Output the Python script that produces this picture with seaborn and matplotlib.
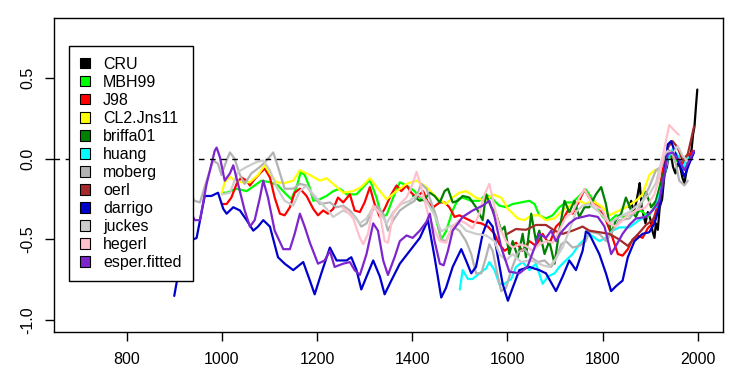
import numpy as np
import pandas as pd
import matplotlib
matplotlib.use("Agg")
import matplotlib.pyplot as plt
from matplotlib.patches import Patch
import seaborn as sns

# series names and colours, in the order they are drawn
names = ['CRU', 'MBH99', 'J98', 'CL2.Jns11', 'briffa01', 'huang',
         'moberg', 'oerl', 'darrigo', 'juckes', 'hegerl', 'esper.fitted']
colors = ['#000000', '#00FF00', '#FF0000', '#FFFF00', '#008000', '#00FFFF',
          '#B3B3B3', '#A52A2A', '#0000CD', '#CCCCCC', '#FFC0CB', '#7D26CD']

xticks = [800, 1000, 1200, 1400, 1600, 1800, 2000]
yticks = [-1.0, -0.5, 0.0, 0.5]
ytick_labels = ['-1.0', '-0.5', '0.0', '0.5']

cru_years = [1856, 1860, 1865, 1870, 1875, 1878, 1882, 1886, 1890, 1895, 1900, 1905, 1909,
             1912, 1916, 1920, 1925, 1930, 1935, 1940, 1944, 1948, 1953, 1958, 1963, 1968,
             1972, 1976, 1980, 1984, 1987, 1990, 1993, 1996, 1999]
cru_vals = [-0.30, -0.26, -0.33, -0.28, -0.20, -0.15, -0.30, -0.35, -0.40, -0.33, -0.37, -0.45, -0.49,
            -0.40, -0.44, -0.30, -0.25, -0.10, -0.05, 0.05, 0.02, -0.05, -0.09, -0.03, -0.05, -0.12,
            -0.15, -0.08, 0.00, 0.02, 0.06, 0.15, 0.20, 0.32, 0.43]

mbh_years = [1000, 1010, 1031, 1052, 1069, 1083, 1101, 1118, 1132, 1146, 1157, 1166, 1174, 1185,
             1192, 1206, 1220, 1234, 1248, 1262, 1283, 1300, 1311, 1325, 1335, 1346, 1360, 1374,
             1388, 1405, 1419, 1433, 1447, 1461, 1471, 1485, 1496, 1506, 1524, 1541, 1555, 1569,
             1583, 1597, 1611, 1629, 1646, 1657, 1667, 1681, 1695, 1709, 1723, 1737, 1751, 1765,
             1772, 1786, 1800, 1814, 1828, 1846, 1863, 1881, 1895, 1909, 1923, 1933, 1944, 1954,
             1965, 1975, 1980]
mbh_vals = [-0.21, -0.21, -0.185, -0.20, -0.165, -0.135, -0.145, -0.165, -0.21, -0.25, -0.175, -0.08,
            -0.10, -0.18, -0.26, -0.25, -0.23, -0.20, -0.185, -0.22, -0.22, -0.165, -0.13, -0.24, -0.35,
            -0.35, -0.24, -0.145, -0.165, -0.20, -0.25, -0.27, -0.34, -0.50, -0.45, -0.32, -0.25, -0.24,
            -0.26, -0.26, -0.22, -0.25, -0.29, -0.30, -0.28, -0.27, -0.26, -0.28, -0.35, -0.37, -0.35,
            -0.30, -0.27, -0.27, -0.23, -0.19, -0.22, -0.28, -0.36, -0.39, -0.35, -0.36, -0.34, -0.32,
            -0.36, -0.30, -0.135, -0.01, 0.02, -0.01, -0.03, -0.01, 0.00]

j98_years = [1000, 1010, 1020, 1031, 1041, 1052, 1059, 1069, 1080, 1090, 1101, 1111, 1122, 1132,
             1143, 1153, 1164, 1178, 1192, 1202, 1213, 1223, 1234, 1244, 1255, 1269, 1279, 1290,
             1300, 1311, 1321, 1332, 1342, 1356, 1367, 1377, 1388, 1398, 1409, 1423, 1433, 1444,
             1458, 1468, 1478, 1489, 1499, 1513, 1527, 1545, 1559, 1573, 1583, 1594, 1604, 1618,
             1632, 1646, 1660, 1674, 1688, 1702, 1716, 1727, 1737, 1751, 1762, 1772, 1779, 1793,
             1807, 1821, 1832, 1842, 1853, 1863, 1874, 1884, 1895, 1905, 1916, 1926, 1937, 1947,
             1958, 1968, 1979, 1989]
j98_vals = [-0.28, -0.28, -0.24, -0.155, -0.115, -0.135, -0.165, -0.125, -0.09, -0.06, -0.115, -0.24,
            -0.34, -0.35, -0.30, -0.21, -0.185, -0.23, -0.31, -0.35, -0.32, -0.34, -0.31, -0.24, -0.27,
            -0.22, -0.32, -0.33, -0.27, -0.175, -0.28, -0.36, -0.31, -0.22, -0.165, -0.20, -0.165, -0.21,
            -0.24, -0.20, -0.27, -0.30, -0.27, -0.27, -0.30, -0.36, -0.35, -0.37, -0.39, -0.40, -0.42,
            -0.465, -0.53, -0.57, -0.55, -0.52, -0.57, -0.51, -0.54, -0.465, -0.53, -0.42, -0.38, -0.32,
            -0.34, -0.26, -0.19, -0.24, -0.26, -0.30, -0.38, -0.49, -0.59, -0.60, -0.56, -0.50, -0.475,
            -0.49, -0.43, -0.40, -0.28, -0.07, 0.05, 0.01, 0.00, -0.03, 0.01, 0.05]

cl2_years = [1000, 1006, 1017, 1027, 1041, 1059, 1076, 1090, 1101, 1115, 1132, 1150, 1164, 1185,
             1206, 1220, 1234, 1255, 1276, 1293, 1311, 1328, 1346, 1367, 1388, 1409, 1430, 1451,
             1471, 1485, 1499, 1513, 1534, 1552, 1569, 1587, 1601, 1622, 1636, 1650, 1667, 1681,
             1699, 1716, 1737, 1751, 1765, 1779, 1800, 1814, 1828, 1849, 1870, 1884, 1898, 1909, 1919]
cl2_vals = [-0.21, -0.145, -0.11, -0.135, -0.145, -0.145, -0.10, -0.04, -0.09, -0.145, -0.15, -0.135,
            -0.07, -0.10, -0.135, -0.12, -0.155, -0.21, -0.20, -0.175, -0.12, -0.185, -0.25, -0.20,
            -0.155, -0.135, -0.175, -0.24, -0.28, -0.24, -0.21, -0.20, -0.24, -0.26, -0.22, -0.24,
            -0.31, -0.37, -0.38, -0.35, -0.35, -0.38, -0.37, -0.32, -0.28, -0.26, -0.28, -0.26, -0.30,
            -0.35, -0.33, -0.30, -0.26, -0.22, -0.10, -0.07, -0.08]

briffa_years = [1402, 1416, 1426, 1437, 1447, 1458, 1468, 1475, 1485, 1496, 1506, 1520, 1534, 1548,
                1555, 1566, 1576, 1587, 1594, 1604, 1611, 1622, 1632, 1639, 1650, 1660, 1667, 1678,
                1688, 1699, 1709, 1720, 1730, 1741, 1751, 1762, 1772, 1786, 1797, 1807, 1818, 1828,
                1839, 1849, 1860, 1870, 1881, 1891, 1902, 1912, 1926, 1937, 1951, 1960]
briffa_vals = [-0.23, -0.26, -0.25, -0.21, -0.23, -0.27, -0.20, -0.185, -0.27, -0.26, -0.23, -0.24,
               -0.30, -0.38, -0.22, -0.30, -0.34, -0.445, -0.42, -0.59, -0.51, -0.61, -0.465, -0.61,
               -0.34, -0.51, -0.445, -0.59, -0.51, -0.65, -0.445, -0.26, -0.33, -0.26, -0.36, -0.30,
               -0.30, -0.22, -0.175, -0.28, -0.465, -0.38, -0.34, -0.24, -0.32, -0.36, -0.28, -0.205,
               -0.30, -0.26, -0.115, 0.01, 0.04, 0.01]

huang_years = [1500, 1506, 1517, 1527, 1541, 1555, 1562, 1573, 1583, 1594, 1608, 1618, 1632, 1646,
               1660, 1674, 1685, 1699, 1709, 1723, 1737, 1751, 1765, 1772, 1793, 1807, 1821, 1835,
               1856, 1877, 1898, 1912, 1926, 1937, 1947, 1958, 1968, 1975, 1980]
huang_vals = [-0.81, -0.69, -0.745, -0.745, -0.71, -0.68, -0.64, -0.69, -0.775, -0.775, -0.745, -0.67,
              -0.64, -0.69, -0.65, -0.775, -0.73, -0.71, -0.67, -0.63, -0.59, -0.53, -0.49, -0.465,
              -0.51, -0.49, -0.445, -0.425, -0.425, -0.38, -0.34, -0.30, -0.155, 0.00, 0.06, 0.02,
              -0.07, -0.01, 0.01]

moberg_years = [901, 919, 933, 943, 954, 968, 982, 992, 999, 1010, 1017, 1027, 1038, 1048, 1062,
                1080, 1094, 1108, 1118, 1132, 1150, 1164, 1178, 1192, 1206, 1227, 1241, 1255, 1269,
                1283, 1293, 1304, 1314, 1325, 1339, 1349, 1360, 1374, 1388, 1405, 1419, 1430, 1440,
                1451, 1461, 1471, 1485, 1499, 1513, 1524, 1534, 1545, 1555, 1562, 1569, 1580, 1587,
                1597, 1608, 1622, 1636, 1650, 1664, 1678, 1692, 1702, 1713, 1723, 1737, 1751, 1765,
                1772, 1793, 1807, 1821, 1835, 1856, 1877, 1898, 1912, 1923, 1933, 1944, 1954, 1961,
                1972, 1979]
moberg_vals = [-0.42, -0.34, -0.22, -0.26, -0.27, -0.135, -0.01, -0.03, -0.10, -0.01, 0.04, 0.00,
               -0.10, -0.155, -0.09, -0.05, -0.01, 0.04, -0.05, -0.185, -0.185, -0.155, -0.165, -0.23,
               -0.28, -0.27, -0.30, -0.29, -0.32, -0.37, -0.42, -0.40, -0.33, -0.29, -0.34, -0.445,
               -0.38, -0.32, -0.29, -0.26, -0.155, -0.185, -0.27, -0.36, -0.50, -0.51, -0.42, -0.445,
               -0.51, -0.59, -0.71, -0.71, -0.61, -0.53, -0.57, -0.73, -0.82, -0.80, -0.69, -0.58,
               -0.56, -0.61, -0.64, -0.63, -0.67, -0.62, -0.53, -0.51, -0.55, -0.54, -0.51, -0.45,
               -0.465, -0.51, -0.445, -0.38, -0.37, -0.30, -0.175, -0.07, -0.05, 0.03, 0.05, -0.03,
               -0.135, -0.165, -0.135]

oerl_years = [1600, 1618, 1639, 1660, 1681, 1699, 1716, 1737, 1758, 1772, 1793, 1814, 1835, 1853,
              1867, 1881, 1891, 1905, 1919, 1930, 1937, 1947, 1958, 1968, 1979, 1986, 1992]
oerl_vals = [-0.465, -0.435, -0.44, -0.41, -0.41, -0.445, -0.465, -0.445, -0.42, -0.445, -0.455,
             -0.465, -0.50, -0.54, -0.49, -0.445, -0.41, -0.38, -0.30, -0.09, 0.07, 0.11, 0.07,
             -0.01, 0.03, 0.12, 0.20]

darrigo_years = [900, 915, 929, 940, 947, 964, 978, 992, 1003, 1010, 1024, 1038, 1052, 1066, 1076,
                 1087, 1101, 1118, 1132, 1150, 1171, 1185, 1195, 1209, 1227, 1241, 1262, 1272, 1283,
                 1293, 1304, 1318, 1332, 1342, 1356, 1374, 1395, 1416, 1433, 1447, 1461, 1471, 1485,
                 1503, 1513, 1524, 1534, 1548, 1559, 1569, 1580, 1590, 1601, 1611, 1625, 1646, 1667,
                 1681, 1702, 1716, 1730, 1744, 1758, 1765, 1772, 1793, 1807, 1818, 1828, 1842, 1853,
                 1867, 1884, 1898, 1909, 1919, 1930, 1937, 1944, 1951, 1961, 1972, 1982, 1992]
darrigo_vals = [-0.85, -0.60, -0.475, -0.50, -0.49, -0.23, -0.23, -0.21, -0.31, -0.34, -0.30, -0.32,
                -0.38, -0.445, -0.42, -0.38, -0.42, -0.61, -0.65, -0.69, -0.64, -0.755, -0.84, -0.71,
                -0.55, -0.63, -0.63, -0.61, -0.69, -0.81, -0.73, -0.63, -0.73, -0.84, -0.755, -0.65,
                -0.57, -0.49, -0.38, -0.61, -0.86, -0.80, -0.67, -0.56, -0.63, -0.71, -0.67, -0.465,
                -0.38, -0.42, -0.61, -0.775, -0.88, -0.80, -0.69, -0.67, -0.69, -0.71, -0.82, -0.73,
                -0.63, -0.69, -0.57, -0.45, -0.465, -0.59, -0.71, -0.82, -0.79, -0.755, -0.61, -0.51,
                -0.465, -0.455, -0.40, -0.30, -0.09, 0.09, 0.11, 0.05, -0.03, -0.11, -0.03, 0.04]

juckes_years = [1000, 1017, 1034, 1052, 1073, 1087, 1101, 1115, 1132, 1150, 1164, 1178, 1192, 1220,
                1234, 1255, 1276, 1290, 1304, 1318, 1332, 1346, 1360, 1377, 1395, 1412, 1430, 1447,
                1461, 1478, 1499, 1513, 1534, 1555, 1573, 1583, 1597, 1611, 1629, 1646, 1660, 1674,
                1688, 1699, 1716, 1730, 1744, 1758, 1772, 1793, 1814, 1835, 1856, 1877, 1898, 1912,
                1926, 1937, 1947, 1958, 1968, 1980]
juckes_vals = [-0.22, -0.21, -0.08, -0.05, -0.02, -0.01, -0.07, -0.175, -0.26, -0.29, -0.20, -0.165,
               -0.22, -0.31, -0.36, -0.32, -0.35, -0.40, -0.37, -0.30, -0.33, -0.40, -0.33, -0.28,
               -0.26, -0.22, -0.26, -0.35, -0.45, -0.42, -0.40, -0.445, -0.465, -0.475, -0.51, -0.59,
               -0.63, -0.59, -0.64, -0.63, -0.64, -0.66, -0.67, -0.63, -0.55, -0.445, -0.33, -0.29,
               -0.28, -0.33, -0.40, -0.36, -0.33, -0.28, -0.22, -0.15, 0.01, 0.05, 0.03, 0.08, 0.02,
               -0.02]

hegerl_years = [1253, 1262, 1276, 1290, 1297, 1307, 1318, 1332, 1342, 1349, 1360, 1374, 1388, 1401,
                1409, 1419, 1433, 1444, 1458, 1471, 1485, 1499, 1513, 1527, 1541, 1552, 1562, 1573,
                1583, 1597, 1611, 1625, 1639, 1653, 1667, 1681, 1695, 1709, 1723, 1737, 1751, 1762,
                1772, 1779, 1800, 1814, 1828, 1849, 1870, 1891, 1909, 1919, 1930, 1940, 1951, 1960]
hegerl_vals = [-0.30, -0.32, -0.37, -0.49, -0.53, -0.465, -0.29, -0.34, -0.51, -0.52, -0.34, -0.28,
               -0.24, -0.155, -0.08, -0.175, -0.34, -0.42, -0.51, -0.52, -0.42, -0.38, -0.40, -0.43,
               -0.34, -0.22, -0.155, -0.30, -0.42, -0.51, -0.55, -0.53, -0.54, -0.57, -0.53, -0.51,
               -0.52, -0.445, -0.36, -0.33, -0.24, -0.19, -0.24, -0.28, -0.32, -0.40, -0.42, -0.36,
               -0.32, -0.30, -0.22, -0.115, 0.07, 0.21, 0.175, 0.15]

esper_years = [901, 912, 922, 933, 943, 954, 968, 985, 989, 996, 1006, 1017, 1024, 1034, 1048, 1059,
               1069, 1080, 1087, 1097, 1111, 1129, 1143, 1153, 1164, 1174, 1185, 1202, 1216, 1227,
               1237, 1255, 1269, 1279, 1290, 1304, 1318, 1328, 1339, 1349, 1363, 1374, 1388, 1401,
               1416, 1430, 1437, 1447, 1458, 1466, 1475, 1485, 1506, 1527, 1548, 1562, 1573, 1587,
               1604, 1625, 1642, 1657, 1667, 1681, 1692, 1702, 1716, 1730, 1744, 1758, 1772, 1790,
               1804, 1818, 1828, 1842, 1856, 1870, 1891, 1905, 1919, 1930, 1937, 1947, 1961, 1972,
               1982, 1992]
esper_vals = [-0.58, -0.56, -0.38, -0.32, -0.38, -0.38, -0.155, 0.05, 0.07, 0.01, -0.135, -0.09,
              -0.04, -0.155, -0.32, -0.42, -0.38, -0.24, -0.135, -0.24, -0.445, -0.56, -0.56, -0.465,
              -0.34, -0.42, -0.52, -0.65, -0.63, -0.57, -0.67, -0.65, -0.64, -0.69, -0.72, -0.59,
              -0.40, -0.445, -0.63, -0.72, -0.61, -0.51, -0.475, -0.49, -0.445, -0.39, -0.34, -0.51,
              -0.65, -0.66, -0.57, -0.445, -0.36, -0.32, -0.29, -0.26, -0.36, -0.55, -0.70, -0.71,
              -0.67, -0.55, -0.465, -0.49, -0.445, -0.51, -0.445, -0.40, -0.37, -0.36, -0.35, -0.36,
              -0.42, -0.59, -0.54, -0.465, -0.41, -0.37, -0.36, -0.32, -0.26, -0.09, 0.03, 0.04,
              -0.01, -0.07, -0.01, 0.05]

all_years = [cru_years, mbh_years, j98_years, cl2_years, briffa_years, huang_years,
             moberg_years, oerl_years, darrigo_years, juckes_years, hegerl_years, esper_years]
all_vals = [cru_vals, mbh_vals, j98_vals, cl2_vals, briffa_vals, huang_vals,
            moberg_vals, oerl_vals, darrigo_vals, juckes_vals, hegerl_vals, esper_vals]

frames = []
for name, yrs, vals in zip(names, all_years, all_vals):
    frames.append(pd.DataFrame({'year': yrs, 'value': vals, 'series': name}))
df = pd.concat(frames, ignore_index=True)

sns.set_theme(style='ticks')
plt.rcParams['font.family'] = ['Liberation Sans', 'DejaVu Sans']

fig = plt.figure(figsize=(7.4, 3.85), dpi=100)
ax = fig.add_axes([0.0734, 0.1384, 0.9030, 0.8141])

sns.lineplot(data=df, x='year', y='value', hue='series', hue_order=names,
             palette=dict(zip(names, colors)), estimator=None, sort=False,
             legend=False, linewidth=1.6, ax=ax)

ax.axhline(0, color='black', linestyle=(0, (4, 4)), linewidth=1)

ax.set_xlim(648, 2052)
ax.set_ylim(-1.072, 0.872)
ax.set_xticks(xticks)
ax.set_xticklabels([str(t) for t in xticks])
ax.set_yticks(yticks)
ax.set_yticklabels(ytick_labels, rotation=90, va='center')
ax.set_xlabel('')
ax.set_ylabel('')
ax.tick_params(axis='both', direction='out', length=6.5, width=1, color='black',
               labelsize=11.5, labelcolor='black')
ax.tick_params(axis='x', pad=8)
ax.tick_params(axis='y', pad=7)
for sp in ax.spines.values():
    sp.set_visible(True)
    sp.set_color('black')
    sp.set_linewidth(1)

handles = [Patch(facecolor=c, edgecolor='black', linewidth=0.8) for c in colors]
leg = ax.legend(handles, names, loc='upper left', bbox_to_anchor=(0.0224, 0.9126),
                borderaxespad=0, fontsize=11.5, frameon=True, fancybox=False,
                handlelength=0.62, handleheight=0.62, handletextpad=0.8,
                labelspacing=0.19, borderpad=0.7)
leg.get_frame().set_edgecolor('black')
leg.get_frame().set_linewidth(1)
leg.get_frame().set_alpha(1)
for t in leg.get_texts():
    t.set_color('black')

fig.savefig('out.png', dpi=100)
